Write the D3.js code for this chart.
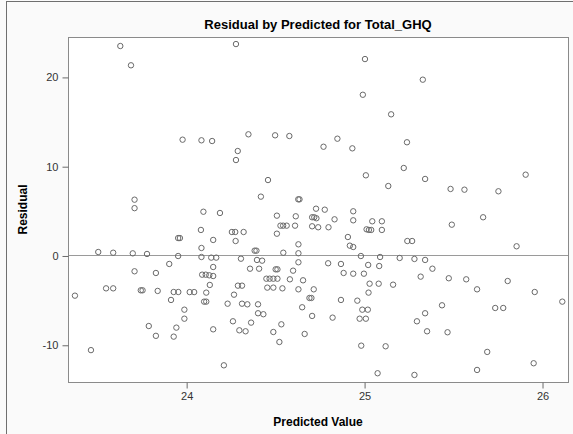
<!DOCTYPE html>
<html>
<head>
<meta charset="utf-8">
<script src="https://cdn.jsdelivr.net/npm/d3@7"></script>
<style>
html,body{margin:0;padding:0;background:#fafafa;}
svg{display:block;}
</style>
</head>
<body>
<svg id="chart" width="573" height="434"></svg>
<script>
const title = "Residual by Predicted for Total_GHQ";
const xLabel = "Predicted Value";
const yLabel = "Residual";
const xTicks = [24, 25, 26];
const yTicks = [-10, 0, 10, 20];

const predicted = [
23.63,23.69,23.98,23.71,23.71,23.955,23.965,23.506,23.59,23.70,23.78,23.955,23.905,23.71,23.83,23.375,23.55,23.59,23.745,23.755,23.84,23.93,23.956,24.02,24.045,23.915,23.99,23.99,23.79,23.945,23.83,23.93,23.465,
24.28,24.086,24.146,24.35,24.50,24.58,24.29,24.28,24.46,24.42,24.63,24.637,24.73,
24.097,24.19,24.51,24.616,24.708,24.72,24.732,24.53,24.545,24.565,24.612,24.708,24.742,24.083,24.257,24.276,24.323,24.51,24.152,24.278,24.631,24.086,24.385,24.395,24.631,24.546,24.086,24.141,24.169,24.308,24.398,24.427,24.631,24.152,24.359,24.41,24.503,24.513,24.601,24.09,24.11,24.13,24.152,24.451,24.469,24.49,24.513,24.583,24.657,24.133,24.291,24.314,24.456,24.49,24.541,24.631,24.717,24.113,24.269,24.693,24.704,24.101,24.113,24.233,24.314,24.344,24.404,24.652,24.404,24.434,24.708,24.263,24.365,24.535,24.152,24.299,24.334,24.49,24.666,24.524,24.212,
25.005,25.33,24.993,25.152,24.85,24.772,24.934,25.241,25.223,25.01,25.343,25.136,
24.779,24.939,24.834,24.939,25.046,25.1,24.80,25.014,25.027,25.04,25.1,24.909,24.92,24.939,25.243,25.27,24.982,25.09,25.2,25.283,25.343,24.798,24.87,25.023,25.085,25.384,24.885,24.939,24.999,25.318,25.031,25.082,25.163,25.025,24.87,24.962,24.99,25.021,24.823,24.975,25.01,25.343,25.297,25.354,24.984,25.121,25.076,25.283,
25.908,25.486,25.564,25.755,25.493,25.669,25.857,25.476,25.574,25.807,25.635,25.959,25.438,25.737,25.782,26.114,25.469,25.692,25.953,25.635
];
const residual = [
23.46,21.3,12.97,6.25,5.3,1.95,1.95,0.39,0.31,0.24,0.17,-0.06,-0.95,-1.77,-1.96,-4.5,-3.68,-3.68,-3.9,-3.9,-3.97,-4.09,-4.09,-4.1,-4.1,-4.98,-6.07,-7.08,-7.9,-8.08,-9.0,-9.09,-10.6,
23.68,12.9,12.82,13.57,13.46,13.38,11.7,10.69,8.45,6.59,6.29,6.29,5.24,
4.9,4.76,4.46,4.39,4.28,4.28,4.17,3.34,3.34,3.34,3.34,3.27,3.16,2.86,2.63,2.63,2.63,2.44,1.74,1.62,1.25,0.84,0.54,0.54,0.25,0.31,-0.17,-0.24,-0.24,-0.36,-0.5,-0.58,-0.76,-1.29,-1.48,-1.48,-1.55,-1.55,-1.70,-2.15,-2.15,-2.22,-2.3,-2.6,-2.6,-2.6,-2.6,-2.67,-2.78,-3.3,-3.38,-3.38,-3.6,-3.6,-3.68,-3.79,-3.79,-4.16,-4.39,-4.76,-4.76,-5.17,-5.17,-5.4,-5.4,-5.47,-5.47,-5.8,-6.47,-6.58,-6.77,-7.37,-7.52,-7.71,-8.27,-8.38,-8.49,-8.57,-8.79,-9.69,-12.3,
22.0,19.69,18.0,15.81,13.08,12.18,12.0,12.68,9.8,8.98,8.57,7.78,
5.13,4.95,4.05,3.94,3.83,3.83,3.16,2.93,2.86,2.86,2.86,2.07,1.1,0.95,1.62,1.62,-0.06,-0.17,-0.28,-0.39,-0.5,-0.87,-0.95,-1.06,-1.18,-1.48,-1.96,-2.04,-2.04,-2.37,-3.16,-3.16,-3.27,-4.16,-4.98,-5.06,-6.07,-6.07,-6.96,-7.08,-7.08,-6.47,-7.37,-8.49,-10.1,-10.17,-13.19,-13.38,
9.05,7.45,7.37,7.19,3.45,4.28,1.03,-2.55,-2.67,-2.86,-3.79,-4.09,-5.58,-5.88,-5.88,-5.17,-8.6,-10.8,-12.07,-12.82
];

const data = predicted.map((p, i) => ({p, r: residual[i]}));

const svg = d3.select("#chart");
const L = 68, R = 568, T = 37, B = 382;
const font = "Arial, 'Liberation Sans', sans-serif";

const x = d3.scaleLinear().domain([23.336, 26.146]).range([L, R]);
const y = d3.scaleLinear().domain([-14.17, 24.47]).range([B, T]);

// outer frame
svg.append("rect").attr("x", 6.5).attr("y", 1.5).attr("width", 600).attr("height", 500)
  .attr("fill", "#fafafa").attr("stroke", "#6f6f6f").attr("stroke-width", 1);

// plot area
svg.append("rect").attr("x", L + 0.5).attr("y", T + 0.5).attr("width", R - L).attr("height", B - T)
  .attr("fill", "#ffffff");

// reference line at 0
svg.append("line").attr("x1", L).attr("x2", R).attr("y1", Math.round(y(0)) + 0.5).attr("y2", Math.round(y(0)) + 0.5)
  .attr("stroke", "#9a9a9a").attr("stroke-width", 1);

// points
svg.append("g").selectAll("circle").data(data).join("circle")
  .attr("cx", d => x(d.p)).attr("cy", d => y(d.r)).attr("r", 2.7)
  .attr("fill", "none").attr("stroke", "#6a6a6a").attr("stroke-width", 1);

// frame
svg.append("rect").attr("x", L + 0.5).attr("y", T + 0.5).attr("width", R - L).attr("height", B - T)
  .attr("fill", "none").attr("stroke", "#8a8a8a").attr("stroke-width", 1);

// axes
const fmt = d => String(d);
const xAxis = d3.axisBottom(x).tickValues(xTicks).tickSize(6).tickPadding(4).tickFormat(fmt);
const gx = svg.append("g").attr("transform", `translate(0.5,${B + 0.5})`).call(xAxis);
gx.select(".domain").remove();
gx.selectAll("line").attr("stroke", "#6a6a6a");
gx.selectAll("text").attr("fill", "#333").style("font-family", font).style("font-size", "11px");

const yAxis = d3.axisLeft(y).tickValues(yTicks).tickSize(6).tickPadding(4).tickFormat(fmt);
const gy = svg.append("g").attr("transform", `translate(${L + 0.5},0.5)`).call(yAxis);
gy.select(".domain").remove();
gy.selectAll("line").attr("stroke", "#6a6a6a");
gy.selectAll("text").attr("fill", "#333").style("font-family", font).style("font-size", "11px");

// title
svg.append("text").attr("x", (L + R) / 2).attr("y", 29).attr("text-anchor", "middle")
  .style("font-family", font).style("font-size", "13px").style("font-weight", "bold")
  .attr("fill", "#000").text(title);

svg.append("text").attr("x", (L + R) / 2).attr("y", 426).attr("text-anchor", "middle")
  .style("font-family", font).style("font-size", "12px").style("font-weight", "bold")
  .attr("fill", "#000").text(xLabel);

svg.append("text").attr("transform", `translate(27,${(T + B) / 2}) rotate(-90)`).attr("text-anchor", "middle")
  .style("font-family", font).style("font-size", "12px").style("font-weight", "bold")
  .attr("fill", "#000").text(yLabel);
</script>
</body>
</html>
